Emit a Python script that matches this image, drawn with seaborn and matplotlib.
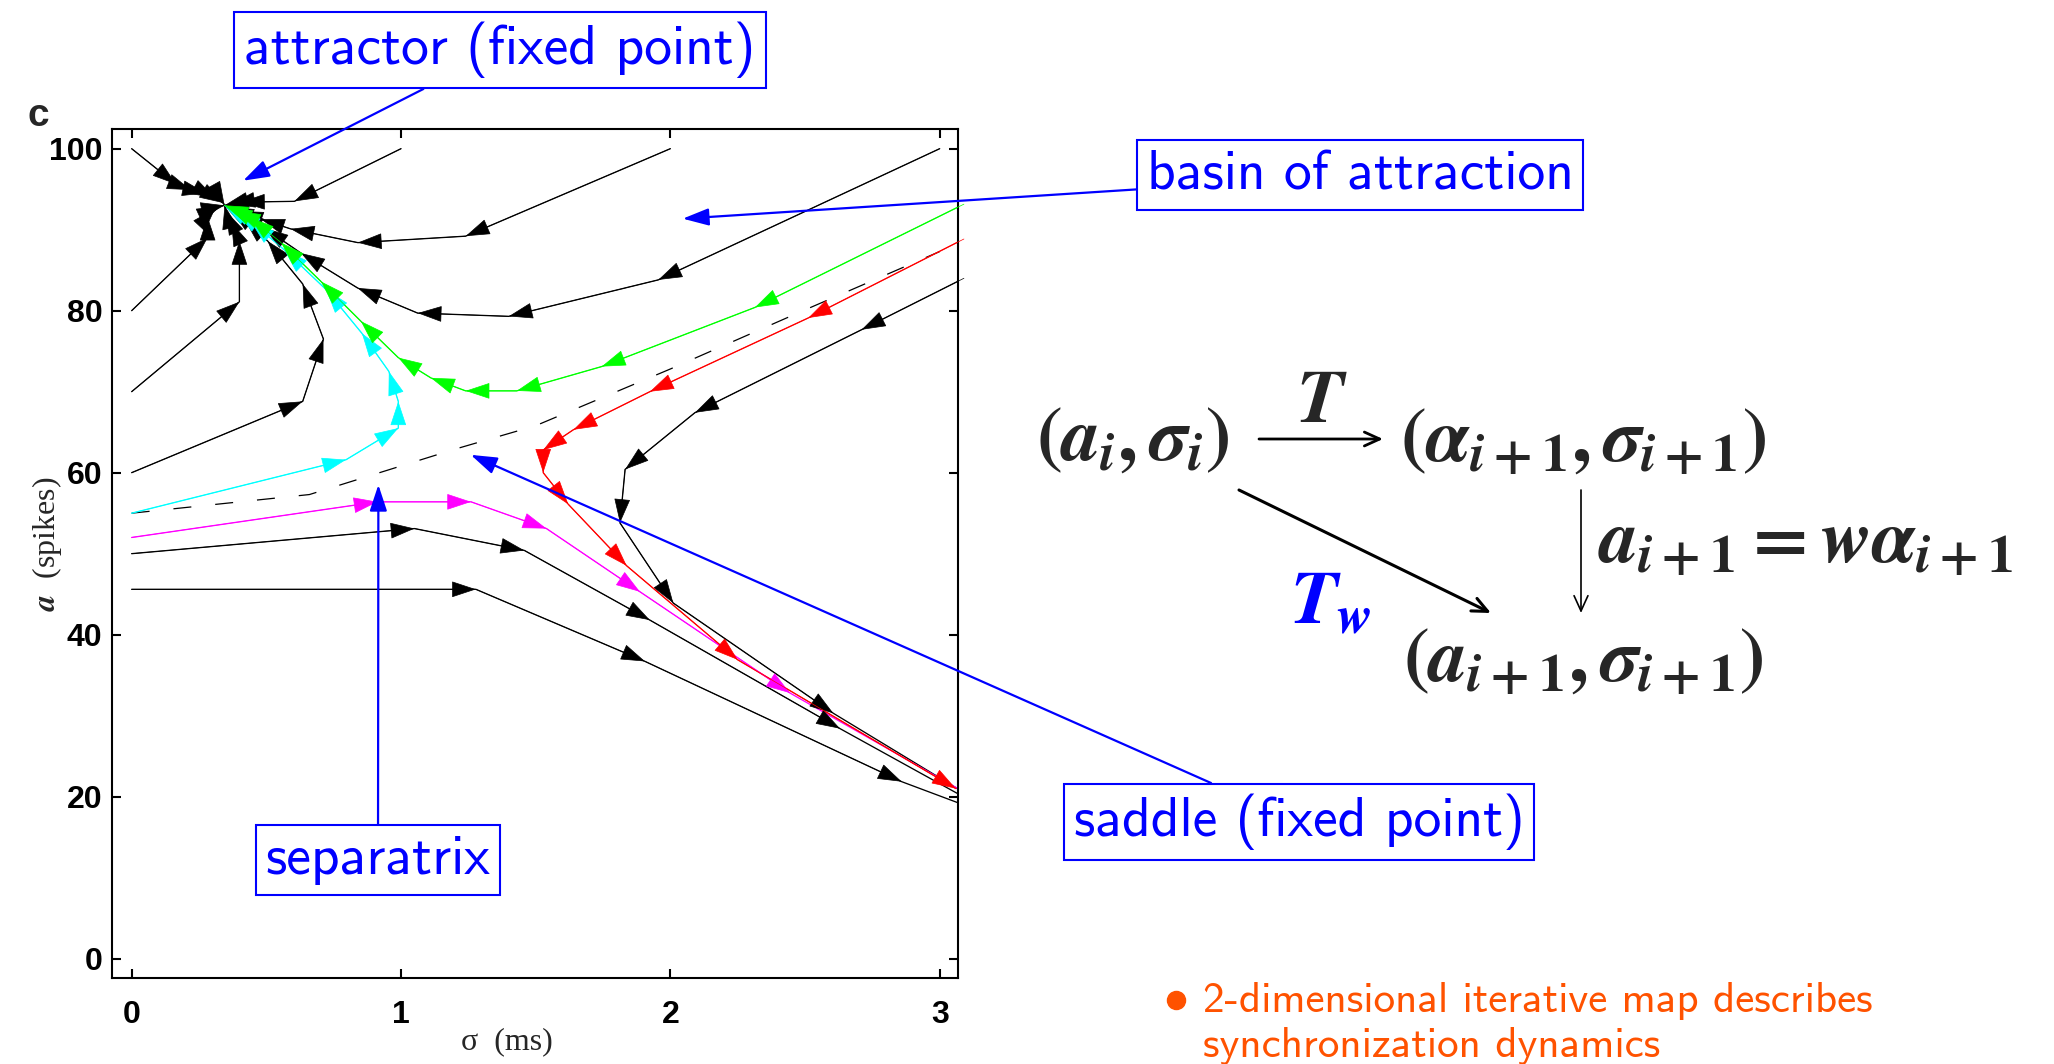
import matplotlib
matplotlib.use("Agg")
import matplotlib.pyplot as plt
import pandas as pd
import seaborn as sns
from matplotlib.lines import Line2D

# ---------------- data (sigma in ms, a in spikes) ----------------
# black trajectories converging to the attractor (ending at ~ (0.345, 93.0))
blk1_sigma = [0.0, 0.165, 0.22, 0.276, 0.31, 0.34, 0.345]
blk1_a = [100.0, 95.6, 94.9, 94.5, 93.9, 93.3, 93.0]
blk2_sigma = [1.0, 0.604, 0.406, 0.37, 0.345]
blk2_a = [100.0, 93.5, 93.4, 93.2, 93.0]
blk3_sigma = [2.0, 1.24, 0.84, 0.59, 0.48, 0.40, 0.365, 0.345]
blk3_a = [100.0, 89.2, 88.4, 90.1, 91.3, 92.3, 92.8, 93.0]
blk4_sigma = [3.0, 1.955, 1.40, 1.062, 0.839, 0.629, 0.493, 0.40, 0.36, 0.345]
blk4_a = [100.0, 83.8, 79.3, 79.7, 82.8, 87.1, 90.2, 92.0, 92.8, 93.0]
blk5_sigma = [0.0, 0.282, 0.282, 0.31, 0.33, 0.345]
blk5_a = [80.0, 89.0, 91.6, 92.6, 92.9, 93.0]
blk6_sigma = [0.0, 0.40, 0.40, 0.37, 0.35, 0.345]
blk6_a = [70.0, 81.1, 88.6, 90.9, 92.3, 93.0]
blk7_sigma = [0.0, 0.635, 0.712, 0.635, 0.505, 0.42, 0.37, 0.345]
blk7_a = [60.0, 68.8, 76.5, 83.3, 88.6, 91.2, 92.5, 93.0]
# black trajectories escaping to the lower right
blk8_sigma = [3.09, 2.71, 2.091, 1.832, 1.813, 2.011, 2.605, 3.12]
blk8_a = [84.0, 77.65, 67.4, 60.4, 53.8, 43.9, 30.3, 19.9]
blk9_sigma = [0.0, 1.05, 1.458, 1.924, 2.63, 3.12]
blk9_a = [50.0, 53.1, 50.4, 41.8, 28.4, 19.4]
blk10_sigma = [0.0, 1.278, 1.906, 2.859, 3.12]
blk10_a = [45.6, 45.6, 36.7, 21.85, 18.6]
# coloured trajectories
green_sigma = [3.09, 2.314, 1.745, 1.43, 1.24, 1.111, 0.99, 0.851, 0.703, 0.555, 0.44, 0.39, 0.36, 0.345]
green_a = [93.15, 80.4, 73.1, 70.1, 70.1, 71.7, 74.2, 78.7, 83.6, 88.4, 91.5, 92.3, 92.8, 93.0]
red_sigma = [3.09, 2.512, 1.924, 1.64, 1.528, 1.528, 1.621, 1.838, 2.25, 3.06]
red_a = [88.85, 79.1, 70.0, 65.3, 62.8, 60.0, 56.1, 48.5, 36.9, 21.0]
cyan_sigma = [0.0, 0.796, 0.99, 0.99, 0.955, 0.855, 0.722, 0.567, 0.443, 0.39, 0.355, 0.345]
cyan_a = [55.0, 61.6, 65.5, 68.8, 72.5, 77.2, 82.6, 87.5, 91.0, 92.2, 92.8, 93.0]
magenta_sigma = [0.0, 0.913, 1.26, 1.54, 1.887, 2.444, 3.12]
magenta_a = [52.0, 56.4, 56.4, 53.1, 45.3, 32.8, 20.0]
# separatrix (dashed)
sep_sigma = [0.0, 0.66, 1.2, 1.5, 2.0, 2.5, 3.0]
sep_a = [55.0, 57.3, 62.9, 65.8, 72.8, 80.1, 87.3]

# callout targets (data) and labels
callout_labels = ["attractor (fixed point)", "basin of attraction",
                  "saddle (fixed point)", "separatrix"]
callout_sigma = [0.414, 2.046, 1.259, 0.916]
callout_a = [96.05, 91.36, 62.2, 58.5]

x_ticks = [0, 1, 2, 3]
y_ticks = [0, 20, 40, 60, 80, 100]

# ---------------- style ----------------
sns.set_theme(style="ticks")
plt.rcParams["font.family"] = ["Liberation Sans", "DejaVu Sans"]
plt.rcParams["mathtext.fontset"] = "custom"
plt.rcParams["mathtext.rm"] = "STIXGeneral:bold"
plt.rcParams["mathtext.it"] = "STIXGeneral:italic:bold"
plt.rcParams["mathtext.bf"] = "STIXGeneral:bold"

W, H = 2054, 1064
fig = plt.figure(figsize=(W / 100, H / 100), dpi=100)
fig.patch.set_facecolor("white")
ax = fig.add_axes([112 / W, 1 - 977.7 / H, (958 - 112) / W, (977.7 - 129) / H])
ax.set_facecolor("white")

HEAD = "-|>,head_length=16,head_width=5.3"


def draw_traj(sig, a, color, lw=0.95):
    df = pd.DataFrame({"sigma": sig, "a": a})
    sns.lineplot(data=df, x="sigma", y="a", sort=False, estimator=None,
                 color=color, lw=lw, ax=ax, legend=False)
    for i in range(1, len(sig)):
        ax.annotate("", xy=(sig[i], a[i]), xytext=(sig[i - 1], a[i - 1]),
                    xycoords="data", textcoords="data",
                    arrowprops=dict(arrowstyle=HEAD, mutation_scale=1,
                                    color=color, lw=0.5,
                                    shrinkA=0, shrinkB=0))


sep_df = pd.DataFrame({"sigma": sep_sigma, "a": sep_a})
sns.lineplot(data=sep_df, x="sigma", y="a", sort=False, estimator=None,
             color="black", lw=0.9, ls=(0, (14.4, 19.2)), ax=ax, legend=False)

for s, a in [(blk1_sigma, blk1_a), (blk2_sigma, blk2_a), (blk3_sigma, blk3_a),
             (blk4_sigma, blk4_a), (blk5_sigma, blk5_a), (blk6_sigma, blk6_a),
             (blk7_sigma, blk7_a), (blk8_sigma, blk8_a), (blk9_sigma, blk9_a),
             (blk10_sigma, blk10_a)]:
    draw_traj(s, a, "black")
draw_traj(magenta_sigma, magenta_a, "#ff00ff")
draw_traj(red_sigma, red_a, "#ff0000")
draw_traj(cyan_sigma, cyan_a, "#00ffff")
draw_traj(green_sigma, green_a, "#00ff00")

# ---------------- axes ----------------
ax.set_xlim(-0.073, 3.068)
ax.set_ylim(-2.35, 102.43)
ax.set_xticks(x_ticks)
ax.set_yticks(y_ticks)
ax.set_xticklabels([str(t) for t in x_ticks])
ax.set_yticklabels([str(t) for t in y_ticks])
ax.tick_params(direction="in", length=6.5, width=1.5, top=True, right=True,
               labelsize=23, colors="black")
ax.tick_params(axis="x", pad=16)
ax.tick_params(axis="y", pad=7)
plt.setp(ax.get_xticklabels() + ax.get_yticklabels(), fontweight="bold")
for sp in ax.spines.values():
    sp.set_visible(True)
    sp.set_linewidth(1.5)
    sp.set_color("black")
ax.grid(False)

ax.set_xlabel("σ  (ms)", fontsize=23, family="Liberation Serif")
ax.xaxis.set_label_coords(0.467, -0.0758)
ax.xaxis.label.set_va("center")
ax.set_ylabel(r"$a$  (spikes)", fontsize=23, family="Liberation Serif")
ax.yaxis.set_label_coords(-0.0768, 0.511)
ax.yaxis.label.set_va("center")

fig.text(38 / W, 1 - 126 / H, "c", fontsize=28, fontweight="bold",
         ha="center", va="baseline")

# ---------------- blue callouts ----------------
BLUE = "#0000ff"
box = dict(boxstyle="square,pad=0.18", fc="white", ec=BLUE, lw=1.5)
box_centres = [(500, H - 50), (1360, H - 175), (1299, H - 822), (378, H - 860)]
for lab, xs, ys, c in zip(callout_labels, callout_sigma, callout_a, box_centres):
    ax.annotate(lab, xy=(xs, ys), xycoords="data", xytext=c,
                textcoords="figure pixels", ha="center", va="center",
                fontsize=40, family=["cmss10", "DejaVu Sans"], color=BLUE,
                bbox=box, annotation_clip=False,
                arrowprops=dict(arrowstyle="-|>,head_length=16,head_width=5.3",
                                mutation_scale=1, color=BLUE, lw=1.6,
                                shrinkA=0, shrinkB=0))

# ---------------- map diagram ----------------
mfs = 55


def ftxt(x, y, s, **kw):
    fig.text(x / W, 1 - y / H, s, fontsize=mfs, va="baseline", **kw)


def farrow(p0, p1, lw):
    ax.annotate("", xy=(p1[0], H - p1[1]), xycoords="figure pixels",
                xytext=(p0[0], H - p0[1]), textcoords="figure pixels",
                annotation_clip=False,
                arrowprops=dict(arrowstyle="->,head_length=11,head_width=5",
                                mutation_scale=1, color="black", lw=lw,
                                shrinkA=0, shrinkB=0))


ftxt(1133, 460, r"$(a_i,\sigma_i)$", ha="center")
ftxt(1322, 422, r"$T$", ha="center")
farrow((1259, 439), (1383, 439), 2.0)
ftxt(1583, 460, r"$(\alpha_{i+1},\sigma_{i+1})$", ha="center")
farrow((1581, 490), (1581, 613), 1.2)
ftxt(1598, 562, r"$a_{i+1}=w\alpha_{i+1}$", ha="left")
farrow((1239, 490), (1491, 613), 2.2)
ftxt(1290, 623, r"$T_w$", ha="left", color=BLUE)
ftxt(1583, 680, r"$(a_{i+1},\sigma_{i+1})$", ha="center")

# ---------------- bullet text ----------------
ORANGE = "#ff5200"
fig.add_artist(Line2D([1176 / W], [1 - 1000 / H], marker="o", markersize=13,
                      color=ORANGE, transform=fig.transFigure))
fig.text(1202.7 / W, 1 - 1011.7 / H, "2-dimensional iterative map describes",
         fontsize=31, family=["cmss10", "DejaVu Sans"], color=ORANGE,
         va="baseline", ha="left")
fig.text(1202.7 / W, 1 - 1056.7 / H, "synchronization dynamics",
         fontsize=31, family=["cmss10", "DejaVu Sans"], color=ORANGE,
         va="baseline", ha="left")

fig.savefig("out.png", dpi=100, facecolor="white")
